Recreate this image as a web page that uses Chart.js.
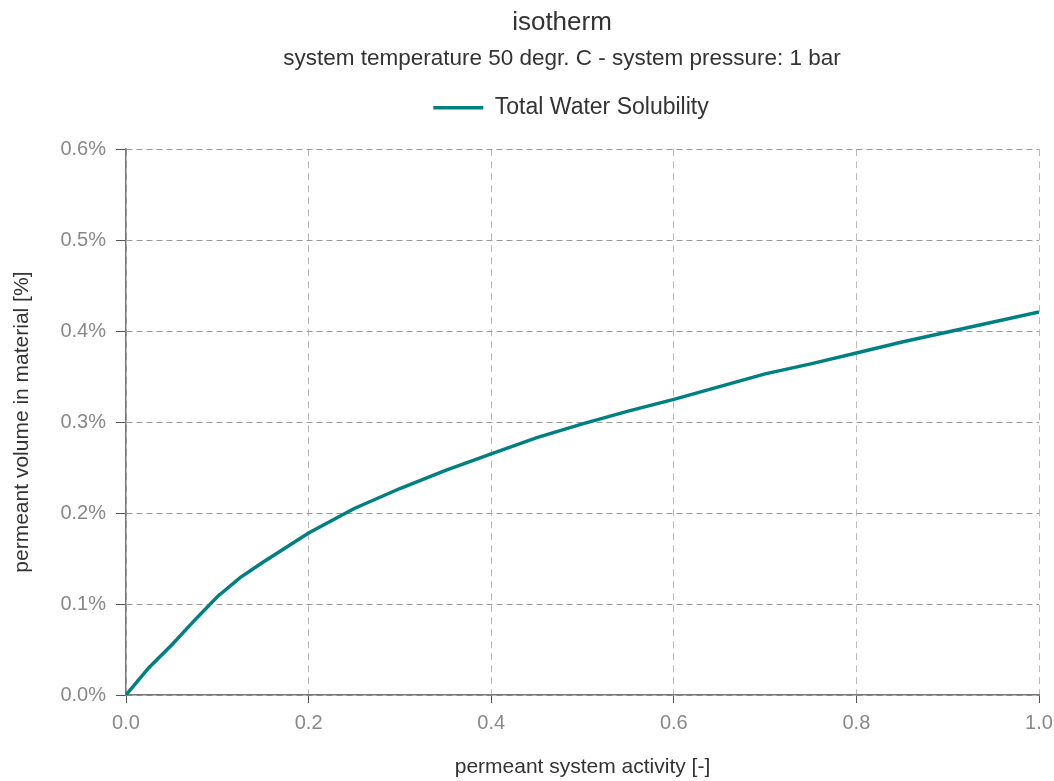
<!DOCTYPE html>
<html>
<head>
<meta charset="utf-8">
<script src="https://cdn.jsdelivr.net/npm/chart.js@4/dist/chart.umd.min.js"></script>
<style>
  html, body { margin: 0; padding: 0; background: #fff; }
  #wrap { width: 1054px; height: 781px; }
</style>
</head>
<body>
<div id="wrap"><canvas id="isoChart" width="1054" height="781"></canvas></div>
<script>
// permeant system activity [-]
const activity = [0, 0.025, 0.05, 0.075, 0.1, 0.125, 0.15, 0.2, 0.25, 0.3, 0.35, 0.4, 0.45, 0.5, 0.55, 0.6, 0.65, 0.7, 0.75, 0.8, 0.85, 0.9, 0.95, 1.0];
// permeant volume in material [%]
const solubility = [0, 0.030, 0.055, 0.082, 0.108, 0.129, 0.146, 0.178, 0.205, 0.227, 0.247, 0.265, 0.283, 0.298, 0.312, 0.325, 0.339, 0.353, 0.364, 0.376, 0.388, 0.399, 0.410, 0.421];
const xTicks = [0, 0.2, 0.4, 0.6, 0.8, 1.0];
const yTicks = [0, 0.1, 0.2, 0.3, 0.4, 0.5, 0.6];

const teal = '#008080';
const font = "'Liberation Sans', Arial, sans-serif";

// extra room between the legend and the plot
const legendGap = {
    id: 'legendGap',
    beforeInit(chart) {
        const fit = chart.legend.fit;
        chart.legend.fit = function () {
            fit.bind(chart.legend)();
            this.height += 20;
        };
    },
    // headings sit a bit right of the page centre in the original
    afterLayout(chart) {
        chart.boxes.forEach(b => {
            if (b.position !== 'top') return;
            const centre = b === chart.legend ? 571 : 562;
            b.left = 2 * centre - chart.width;
            b.right = chart.width;
        });
    }
};

const ctx = document.getElementById('isoChart').getContext('2d');
new Chart(ctx, {
    type: 'line',
    data: {
        datasets: [{
            label: 'Total Water Solubility',
            data: activity.map((a, i) => ({ x: a, y: solubility[i] })),
            borderColor: teal,
            backgroundColor: teal,
            borderWidth: 3.5,
            pointRadius: 0,
            tension: 0
        }]
    },
    plugins: [legendGap],
    options: {
        responsive: false,
        animation: false,
        layout: { padding: { left: 0, right: 15, top: 0, bottom: 0 } },
        plugins: {
            title: {
                display: true,
                text: 'isotherm',
                color: '#333',
                font: { family: font, size: 26, weight: 'normal' },
                padding: { top: 7, bottom: 7 }
            },
            subtitle: {
                display: true,
                text: 'system temperature 50 degr. C - system pressure: 1 bar',
                color: '#333',
                font: { family: font, size: 22.5 },
                padding: { top: 0, bottom: 12 }
            },
            legend: {
                labels: {
                    color: '#333',
                    font: { family: font, size: 23 },
                    boxWidth: 50,
                    boxHeight: 0,
                    padding: 12
                }
            },
            tooltip: { enabled: false }
        },
        scales: {
            x: {
                type: 'linear',
                min: 0,
                max: 1,
                afterBuildTicks: axis => { axis.ticks = xTicks.map(v => ({ value: v })); },
                afterFit: axis => { axis.height = 86; axis.paddingRight = 0; },
                ticks: {
                    color: '#888',
                    font: { family: font, size: 20 },
                    padding: 8,
                    callback: v => v.toFixed(1)
                },
                grid: {
                    color: '#bbb',
                    tickColor: '#555',
                    tickBorderDash: [],
                    tickLength: 8
                },
                border: { color: '#777', width: 1.5, dash: [7, 5] },
                title: {
                    display: true,
                    text: 'permeant system activity [-]',
                    color: '#333',
                    font: { family: font, size: 21 },
                    padding: { top: 0, bottom: 1 }
                }
            },
            y: {
                min: 0,
                max: 0.6,
                afterBuildTicks: axis => { axis.ticks = yTicks.map(v => ({ value: v })); },
                afterFit: axis => { axis.width = 126; },
                ticks: {
                    color: '#888',
                    font: { family: font, size: 20 },
                    padding: 10,
                    callback: v => v.toFixed(1) + '%'
                },
                grid: {
                    color: '#999',
                    tickColor: '#555',
                    tickBorderDash: [],
                    tickLength: 10
                },
                border: { color: '#777', width: 1.5, dash: [6, 4] },
                title: {
                    display: true,
                    text: 'permeant volume in material [%]',
                    color: '#333',
                    font: { family: font, size: 21 },
                    padding: { top: 10, bottom: 0 }
                }
            }
        }
    }
});
</script>
</body>
</html>
